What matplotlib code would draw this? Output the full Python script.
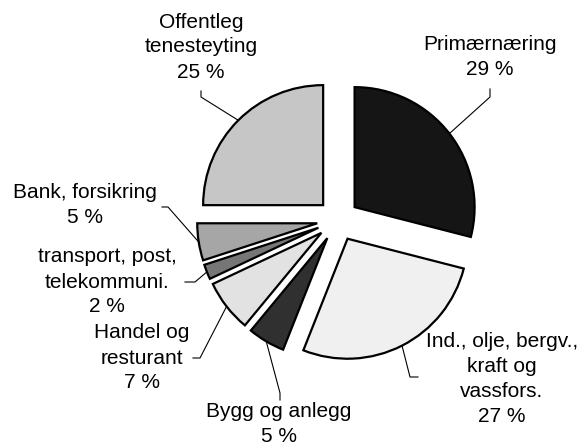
import numpy as np
import matplotlib
matplotlib.use('Agg')
from matplotlib import pyplot as plt

plt.rcParams['font.family'] = ['Liberation Sans', 'DejaVu Sans']

# data
sectors = ['Primærnæring', 'Ind., olje, bergv.,\nkraft og\nvassfors.', 'Bygg og anlegg',
           'Handel og\nresturant', 'transport, post,\ntelekommuni.', 'Bank, forsikring',
           'Offentleg\ntenesteyting']
shares = [29, 27, 5, 7, 2, 5, 25]

# styles / layout (pixel coords, y down)
colors = ['#151515', '#f0f0f0', '#303030', '#e2e2e2', '#767676', '#a6a6a6', '#c6c6c6']
W, H = 582, 446
center_px = (338, 220)
radius = 120
expl = 21
label_pos = [(490, 57), (502, 379), (279, 424), (142, 358), (107, 282), (85, 205), (201, 47)]
leader_elbow = [(490, 97), (410, 377), (280, 393), (200, 358), (195, 282), (168, 207), (201, 97)]
leader_end = [(490, 89), (418, 377), (280, 400), (193, 358), (185, 282), (162, 207), (201, 91)]


def px(p):
    return p[0], H - p[1]


fig = plt.figure(figsize=(W / 100, H / 100), dpi=100)
ax = fig.add_axes([0, 0, 1, 1])

wedges, _ = ax.pie(shares, explode=[expl] * len(shares), startangle=90, counterclock=False,
                   colors=colors, radius=radius, center=px(center_px),
                   wedgeprops=dict(edgecolor='black', linewidth=1.6), frame=True)
ax.set_xlim(0, W)
ax.set_ylim(0, H)
ax.set_aspect('equal')
ax.axis('off')

for i, w in enumerate(wedges):
    mid = np.deg2rad((w.theta1 + w.theta2) / 2)
    cx, cy = w.center
    arc_pt = (cx + w.r * np.cos(mid), cy + w.r * np.sin(mid))
    e1 = px(leader_elbow[i])
    e2 = px(leader_end[i])
    ax.plot([arc_pt[0], e1[0], e2[0]], [arc_pt[1], e1[1], e2[1]], color='black', lw=0.8)
    lx, ly = px(label_pos[i])
    ax.text(lx, ly, f'{sectors[i]}\n{shares[i]} %', ha='center', va='center',
            fontsize=15, linespacing=1.4)

fig.savefig('out.png', dpi=100)
